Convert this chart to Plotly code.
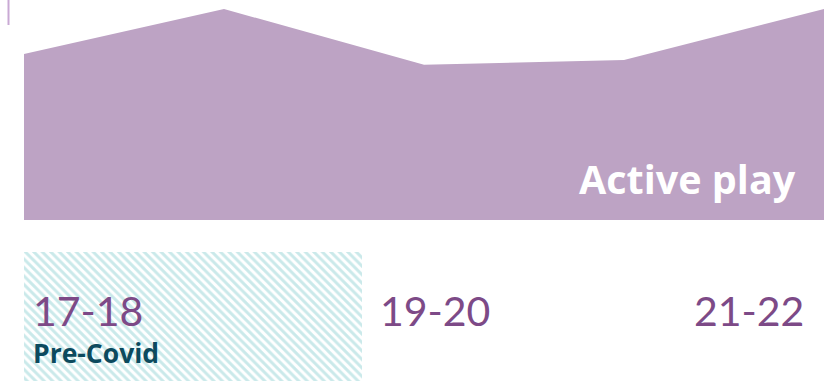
import plotly.graph_objects as go

W, H = 825, 381

# Survey waves (five points across three academic years)
waves = ["17-18 a", "17-18 b", "19-20", "21-22 a", "21-22 b"]
active_play = [55.5, 70.6, 51.9, 53.5, 70.6]
year_labels = ["17-18", "19-20", "21-22"]
period_label = "Pre-Covid"
series_name = "Active play"

AREA = "#bda3c4"
PURPLE = "#7d4a87"
TEAL_DARK = "#0c4a5e"
HATCH = "#95d4d6"
FONT = "Open Sans"
DIGIT_FONT = "Lato"


def px(x):
    return x / W


def py(y):
    return 1 - y / H


xs = list(range(len(waves)))
plot_bottom = 220  # pixel row of the area baseline
dom_lo = py(plot_bottom)

fig = go.Figure()

fig.add_trace(go.Scatter(
    x=xs, y=active_play, mode="lines", fill="tozeroy",
    line=dict(color=AREA, width=0), fillcolor=AREA,
    hoverinfo="skip", showlegend=False,
))

# hatched band marking the pre-Covid period
fig.add_trace(go.Scatter(
    x=[0, 1.69, 1.69, 0, 0], y=[0, 0, 1, 1, 0],
    xaxis="x", yaxis="y2", mode="lines", fill="toself",
    line=dict(width=0), fillcolor="rgba(0,0,0,0)",
    fillpattern=dict(shape="\\", fgcolor=HATCH, bgcolor="white",
                     size=6, solidity=0.5),
    hoverinfo="skip", showlegend=False,
))

fig.update_layout(
    width=W, height=H,
    margin=dict(l=0, r=0, t=0, b=0),
    paper_bgcolor="white", plot_bgcolor="rgba(0,0,0,0)",
    xaxis=dict(range=[-0.12, 4.005], visible=False, fixedrange=True),
    yaxis=dict(domain=[dom_lo, 1], range=[0, 73.6], visible=False),
    yaxis2=dict(domain=[0, py(252)], range=[0, 1], visible=False),
    font=dict(family=FONT),
)

fig.add_shape(type="line", xref="paper", yref="paper",
              x0=px(8.5), x1=px(8.5), y0=py(0), y1=py(25),
              line=dict(color="#c9a9d4", width=2))

fig.add_annotation(text=f"<b>{series_name}</b>", xref="paper", yref="paper",
                   x=px(798), y=py(179), xanchor="right", yanchor="middle",
                   showarrow=False, font=dict(size=39.5, color="white", family=FONT))

anchors = [("left", 31), ("center", 435), ("right", 806)]
for lab, (anc, xp) in zip(year_labels, anchors):
    fig.add_annotation(text=lab, xref="paper", yref="paper",
                       x=px(xp), y=py(310), xanchor=anc, yanchor="middle",
                       showarrow=False, font=dict(size=41, color=PURPLE, family=DIGIT_FONT))

fig.add_annotation(text=f"<b>{period_label}</b>", xref="paper", yref="paper",
                   x=px(31), y=py(353), xanchor="left", yanchor="middle",
                   showarrow=False, font=dict(size=26.5, color=TEAL_DARK, family=FONT))

fig.write_html("out.html")
